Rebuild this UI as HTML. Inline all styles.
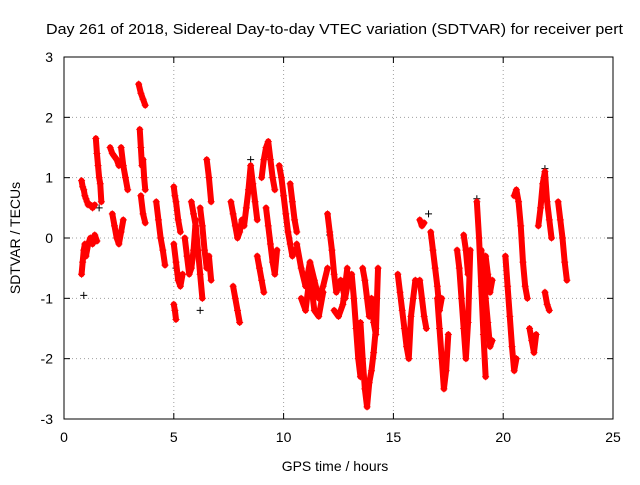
<!DOCTYPE html>
<html><head><meta charset="utf-8"><style>
body{margin:0;background:#fff}
svg text{font-family:"Liberation Sans",sans-serif;fill:#000}
</style></head><body>
<svg id="chart" width="640" height="480">
<text x="46" y="34" font-size="15" textLength="577" lengthAdjust="spacingAndGlyphs">Day 261 of 2018, Sidereal Day-to-day VTEC variation (SDTVAR) for receiver pert</text>
<text x="335" y="471" font-size="14" text-anchor="middle">GPS time / hours</text>
<text x="20" y="238" font-size="14" text-anchor="middle" transform="rotate(-90 20 238)">SDTVAR / TECUs</text>
<g id="grid"></g>
<g id="ticks"></g>
<g id="marks"></g>
<rect x="64" y="57" width="549" height="362" fill="none" stroke="#000" stroke-width="1"/>
</svg>
<script>
const xTicks=[0,5,10,15,20,25];
const yTicks=[3,2,1,0,-1,-2,-3];
const trackTimes=[
[0.8,0.85,0.9,0.95,1.0,1.05,1.1,1.2,1.3,1.4],[0.8,0.85,0.9,0.95,1.0,1.1,1.2,1.3,1.4,1.5],[1.45,1.5,1.55,1.6,1.65,1.7],
[2.1,2.2,2.3,2.4,2.5],[2.2,2.3,2.4,2.5,2.6,2.7],[2.6,2.7,2.8,2.9],[3.4,3.5,3.6,3.7],[3.45,3.5,3.55,3.6,3.65,3.7],[3.5,3.6,3.7],
[4.2,4.3,4.4,4.5,4.6],[5.0,5.05,5.1,5.2,5.3],[5.0,5.1,5.2,5.3,5.4],[5.0,5.05,5.1],[5.5,5.6,5.7,5.8,5.9,6.0],
[5.8,5.9,6.0,6.1,6.2,6.3],[6.2,6.3,6.4,6.5,6.6,6.7],[6.5,6.6,6.7],[7.6,7.7,7.8,7.9,8.0,8.1],[7.7,7.8,7.9,8.0],
[8.2,8.3,8.4,8.5,8.6,8.7,8.8],[8.8,8.9,9.0,9.1],[9.0,9.1,9.2,9.3,9.4,9.5,9.6],[9.2,9.3,9.4,9.5,9.6,9.7],
[9.8,9.9,10.0,10.1,10.2,10.3,10.4,10.5],[10.3,10.4,10.5,10.6],[10.6,10.8,11.0,11.2,11.4,11.6,11.8,12.0],
[10.8,11.0,11.2,11.4,11.6,11.8],[12.0,12.1,12.2,12.3,12.4,12.6,12.8,13.0],[12.3,12.5,12.7,12.9],
[13.1,13.2,13.3,13.4,13.5],[13.5,13.6,13.7,13.8,13.9,14.0,14.1,14.2],[13.6,13.7,13.8,13.9,14.0,14.1,14.2,14.3],
[15.2,15.3,15.4,15.5,15.6,15.7,15.8,15.9,16.0],[16.2,16.3,16.4],[16.2,16.3,16.4,16.5],[16.7,16.8,16.9,17.0,17.1,17.2],
[17.0,17.1,17.2,17.3,17.4,17.5],[17.9,18.0,18.1,18.2,18.3,18.4,18.5],[18.2,18.3,18.4],[18.8,18.9,19.0,19.1,19.2],
[19.0,19.1,19.2,19.3,19.4,19.5],[19.2,19.3,19.4,19.5],[20.1,20.2,20.3,20.4,20.5,20.6],[20.5,20.6,20.7,20.8,20.9,21.0,21.1],
[21.2,21.3,21.4,21.5],[21.6,21.7,21.8,21.9,22.0,22.1,22.2],[21.9,22.0,22.1],[22.5,22.6,22.7,22.8,22.9]];
const trackValues=[
[0.95,0.85,0.8,0.7,0.65,0.6,0.55,0.55,0.5,0.55],[-0.6,-0.4,-0.2,-0.1,-0.3,-0.1,0.0,-0.1,0.05,-0.05],[1.65,1.4,1.2,1.0,0.9,0.6],
[1.5,1.4,1.35,1.3,1.2],[0.4,0.2,0.0,-0.1,0.1,0.3],[1.5,1.2,1.0,0.8],[2.55,2.4,2.3,2.2],[1.8,1.5,1.2,1.3,1.0,0.8],[0.7,0.4,0.25],
[0.6,0.3,0.0,-0.2,-0.45],[0.85,0.7,0.6,0.3,0.1],[-0.1,-0.4,-0.7,-0.8,-0.6],[-1.1,-1.2,-1.35],[0.0,-0.3,-0.6,-0.5,-0.2,0.3],
[0.6,0.4,0.2,-0.2,-0.6,-1.0],[0.5,0.2,-0.2,-0.5,-0.3,-0.7],[1.3,1.0,0.6],[0.6,0.4,0.2,0.0,0.1,0.3],[-0.8,-1.0,-1.2,-1.4],
[0.2,0.5,0.8,1.2,0.9,0.6,0.3],[-0.3,-0.5,-0.7,-0.9],[1.0,1.3,1.5,1.6,1.3,1.0,0.8],[0.5,0.2,-0.1,-0.4,-0.6,-0.2],
[1.2,1.0,0.7,0.4,0.1,-0.1,-0.3,-0.2],[0.9,0.6,0.3,0.1],[-0.1,-0.5,-0.8,-0.4,-0.7,-1.0,-0.8,-0.5],
[-1.0,-1.2,-0.6,-1.2,-1.3,-0.9],[0.4,0.1,-0.2,-0.6,-0.9,-0.7,-1.0,-0.6],[-1.2,-1.3,-1.1,-0.5],
[-0.6,-1.0,-1.5,-2.0,-2.3],[-1.4,-2.0,-2.5,-2.8,-2.4,-2.2,-1.9,-1.5],[-0.5,-0.7,-1.0,-1.3,-1.0,-1.4,-1.6,-0.5],
[-0.6,-0.9,-1.2,-1.5,-1.8,-2.0,-1.3,-1.0,-0.7],[0.3,0.2,0.25],[-0.7,-1.0,-1.3,-1.5],[0.1,-0.2,-0.5,-0.8,-1.2,-1.0],
[-1.0,-1.5,-2.0,-2.5,-2.2,-1.6],[-0.2,-0.5,-1.0,-1.5,-2.0,-1.4,-0.2],[0.05,-0.2,-0.6],[0.6,0.0,-0.8,-1.6,-2.3],
[-0.2,-0.6,-1.0,-1.4,-1.8,-1.7],[-0.3,-0.6,-0.9,-0.7],[-0.3,-0.8,-1.3,-1.8,-2.2,-2.0],[0.7,0.8,0.6,0.2,-0.4,-0.8,-1.0],
[-1.5,-1.7,-1.9,-1.6],[0.2,0.5,0.9,1.1,0.6,0.3,0.0],[-0.9,-1.1,-1.2],[0.6,0.3,0.0,-0.4,-0.7]];
const blackTimes=[0.9,1.6,5.1,6.2,8.5,12.1,16.6,18.8,21.9];
const blackValues=[-0.95,0.5,-0.5,-1.2,1.3,0.05,0.4,0.65,1.15];

const NS='http://www.w3.org/2000/svg';
const X0=64,X1=613,Y0=419,Y1=57;
function xs(t){return X0+(t-0)/(25-0)*(X1-X0);}
function ys(v){return Y0-(v+3)/6*(Y0-Y1);}
function mk(tag,attrs,parent){const e=document.createElementNS(NS,tag);for(const k in attrs)e.setAttribute(k,attrs[k]);parent.appendChild(e);return e;}
const grid=document.getElementById('grid'),ticks=document.getElementById('ticks'),marks=document.getElementById('marks');
xTicks.forEach(t=>{
  const x=xs(t);
  if(t>0&&t<25){const g=mk('line',{x1:x,x2:x,y1:Y0,y2:Y1,stroke:'#a0a0a0','stroke-dasharray':'1,3'},grid);
  
  }
  mk('line',{x1:x,x2:x,y1:Y0,y2:Y0-6,stroke:'#000'},ticks);
  mk('line',{x1:x,x2:x,y1:Y1,y2:Y1+6,stroke:'#000'},ticks);
  const l=mk('text',{x:x,y:Y0+23,'font-size':14,'text-anchor':'middle'},ticks);l.textContent=t;
  
  
});
yTicks.forEach(v=>{
  const y=ys(v);
  if(v>-3&&v<3){const g=mk('line',{x1:X0,x2:X1,y1:y,y2:y,stroke:'#a0a0a0','stroke-dasharray':'1,3'},grid);
  
  }
  mk('line',{x1:X0,x2:X0+6,y1:y,y2:y,stroke:'#000'},ticks);
  mk('line',{x1:X1,x2:X1-6,y1:y,y2:y,stroke:'#000'},ticks);
  const l=mk('text',{x:X0-11,y:y+5,'font-size':14,'text-anchor':'end'},ticks);l.textContent=v;
  
  
});
function plus(t,v,col){
  const x=xs(t),y=ys(v);
  const p=mk('path',{d:`M${x-3.5},${y}H${x+3.5}M${x},${y-3.5}V${y+3.5}`,stroke:col,'stroke-width':1},marks);
  
  
}
blackTimes.forEach((t,i)=>plus(t,blackValues[i],'#000'));
trackTimes.forEach((ts,k)=>{
  const vs=trackValues[k];
  const pts=ts.map((t,i)=>xs(t)+','+ys(vs[i])).join(' ');
  const pl=mk('polyline',{points:pts,fill:'none',stroke:'#f00','stroke-width':6,'stroke-linejoin':'round','stroke-linecap':'round'},marks);
  
  
  ts.forEach((t,i)=>plus(t,vs[i],'#f00'));
});
</script>
</body></html>
